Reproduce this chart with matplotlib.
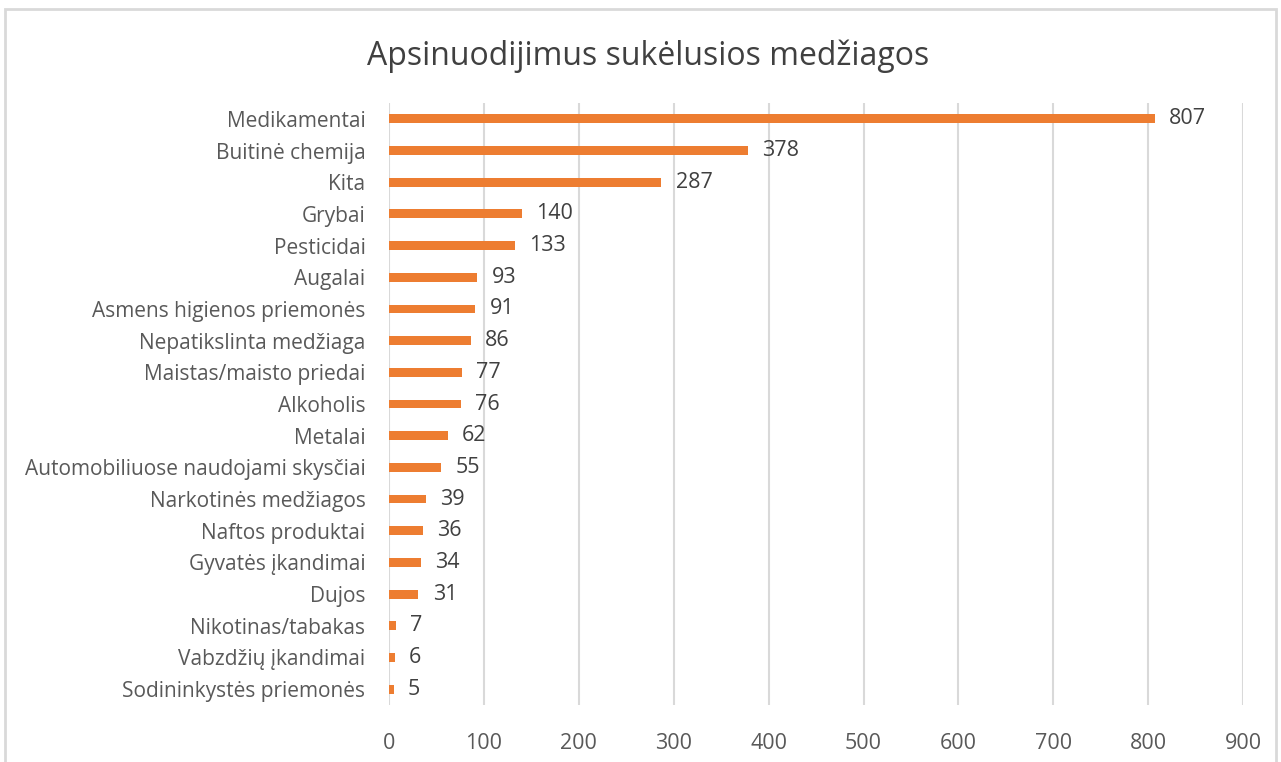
import matplotlib.pyplot as plt
from matplotlib.patches import Rectangle

categories = ["Medikamentai", "Buitinė chemija", "Kita", "Grybai", "Pesticidai",
              "Augalai", "Asmens higienos priemonės", "Nepatikslinta medžiaga",
              "Maistas/maisto priedai", "Alkoholis", "Metalai",
              "Automobiliuose naudojami skysčiai", "Narkotinės medžiagos",
              "Naftos produktai", "Gyvatės įkandimai", "Dujos",
              "Nikotinas/tabakas", "Vabzdžių įkandimai", "Sodininkystės priemonės"]
values = [807, 378, 287, 140, 133, 93, 91, 86, 77, 76, 62, 55, 39, 36, 34, 31, 7, 6, 5]
title = "Apsinuodijimus sukėlusios medžiagos"

plt.rcParams['font.family'] = ['Open Sans', 'DejaVu Sans']

fig = plt.figure(figsize=(12.81, 7.62), dpi=100)
ax = fig.add_axes([0.3037, 0.0748, 0.6667, 0.79])

pos = list(range(len(categories)))
ax.barh(pos, values, height=0.28, color='#ED7D31', zorder=3)
for p, v in zip(pos, values):
    ax.text(v + 15, p, str(v), va='center', ha='left', fontsize=15.5, color='#404040')

ax.set_ylim(len(categories) - 0.5, -0.5)
ax.set_yticks(pos)
ax.set_yticklabels(categories, fontsize=15, color='#595959')
ax.set_xlim(0, 900)
ax.set_xticks(range(0, 901, 100))
ax.tick_params(axis='x', labelsize=15.5, labelcolor='#595959', length=0, pad=20)
ax.tick_params(axis='y', length=0, pad=17)
ax.grid(axis='x', color='#d9d9d9', linewidth=1.5, zorder=0)
for s in ax.spines.values():
    s.set_visible(False)

fig.text(0.506, 0.926, title, ha='center', va='center', fontsize=23, color='#404040')
fig.patches.append(Rectangle((5 / 1281, -0.01), 1271 / 1281, 1 - 9 / 762 + 0.01,
                             transform=fig.transFigure, fill=False,
                             edgecolor='#d9d9d9', linewidth=2))

fig.savefig('out.png', dpi=100)
